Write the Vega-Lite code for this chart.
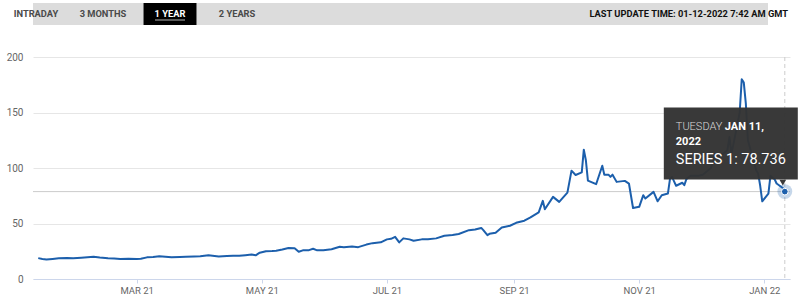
{
  "$schema": "https://vega.github.io/schema/vega-lite/v6.json",
  "padding": {"top": 3, "left": 0, "right": 0, "bottom": 0},
  "autosize": {"type": "pad"},
  "background": "white",
  "spacing": 27,
  "config": {"view": {"stroke": null}, "font": "Roboto"},
  "datasets": {
    "tabs": [
      {"tab": "INTRADAY", "selected": false},
      {"tab": "3 MONTHS", "selected": false},
      {"tab": "1 YEAR", "selected": true},
      {"tab": "2 YEARS", "selected": false}
    ],
    "update": [{"label": "LAST UPDATE TIME: 01-12-2022 7:42 AM GMT"}],
    "tip": [{"date": "2022-01-11", "value": 78.736, "day": "TUESDAY", "md": "JAN 11,", "yr": "2022", "label": "SERIES 1: 78.736"}],
    "series": [
      {"date": "2021-01-12", "value": 18.8},
      {"date": "2021-01-14", "value": 18.0},
      {"date": "2021-01-16", "value": 17.5},
      {"date": "2021-01-19", "value": 18.0},
      {"date": "2021-01-22", "value": 18.6},
      {"date": "2021-01-26", "value": 19.0},
      {"date": "2021-01-29", "value": 18.6},
      {"date": "2021-02-02", "value": 19.2},
      {"date": "2021-02-05", "value": 19.6},
      {"date": "2021-02-08", "value": 20.0},
      {"date": "2021-02-11", "value": 19.3},
      {"date": "2021-02-15", "value": 18.6},
      {"date": "2021-02-18", "value": 18.4},
      {"date": "2021-02-21", "value": 18.0},
      {"date": "2021-02-25", "value": 18.2},
      {"date": "2021-03-01", "value": 18.1},
      {"date": "2021-03-03", "value": 18.3},
      {"date": "2021-03-06", "value": 19.5},
      {"date": "2021-03-09", "value": 19.8},
      {"date": "2021-03-12", "value": 20.5},
      {"date": "2021-03-15", "value": 20.0},
      {"date": "2021-03-18", "value": 19.5},
      {"date": "2021-03-22", "value": 19.8},
      {"date": "2021-03-25", "value": 20.0},
      {"date": "2021-03-29", "value": 20.3},
      {"date": "2021-04-01", "value": 20.5},
      {"date": "2021-04-05", "value": 21.5},
      {"date": "2021-04-08", "value": 20.8},
      {"date": "2021-04-10", "value": 20.3},
      {"date": "2021-04-14", "value": 20.7},
      {"date": "2021-04-17", "value": 21.0},
      {"date": "2021-04-20", "value": 21.0},
      {"date": "2021-04-23", "value": 21.5},
      {"date": "2021-04-26", "value": 22.0},
      {"date": "2021-04-28", "value": 21.3},
      {"date": "2021-04-30", "value": 23.7},
      {"date": "2021-05-03", "value": 25.0},
      {"date": "2021-05-06", "value": 25.2},
      {"date": "2021-05-08", "value": 25.5},
      {"date": "2021-05-11", "value": 26.5},
      {"date": "2021-05-14", "value": 28.0},
      {"date": "2021-05-17", "value": 27.8},
      {"date": "2021-05-19", "value": 24.6},
      {"date": "2021-05-21", "value": 25.8},
      {"date": "2021-05-24", "value": 26.0},
      {"date": "2021-05-26", "value": 27.2},
      {"date": "2021-05-28", "value": 25.8},
      {"date": "2021-05-31", "value": 26.0},
      {"date": "2021-06-04", "value": 26.8},
      {"date": "2021-06-08", "value": 29.0},
      {"date": "2021-06-10", "value": 28.7},
      {"date": "2021-06-14", "value": 29.2},
      {"date": "2021-06-17", "value": 28.7},
      {"date": "2021-06-21", "value": 31.0},
      {"date": "2021-06-24", "value": 32.3},
      {"date": "2021-06-28", "value": 33.0},
      {"date": "2021-07-01", "value": 35.7},
      {"date": "2021-07-03", "value": 36.2},
      {"date": "2021-07-05", "value": 38.0},
      {"date": "2021-07-07", "value": 33.0},
      {"date": "2021-07-09", "value": 36.6},
      {"date": "2021-07-12", "value": 35.7},
      {"date": "2021-07-14", "value": 34.5},
      {"date": "2021-07-18", "value": 35.7},
      {"date": "2021-07-21", "value": 35.9},
      {"date": "2021-07-25", "value": 36.6},
      {"date": "2021-07-29", "value": 39.0},
      {"date": "2021-08-02", "value": 39.6},
      {"date": "2021-08-05", "value": 40.5},
      {"date": "2021-08-10", "value": 44.0},
      {"date": "2021-08-13", "value": 44.6},
      {"date": "2021-08-16", "value": 46.0},
      {"date": "2021-08-17", "value": 44.0},
      {"date": "2021-08-19", "value": 39.5},
      {"date": "2021-08-20", "value": 40.7},
      {"date": "2021-08-23", "value": 41.6},
      {"date": "2021-08-26", "value": 46.4},
      {"date": "2021-08-30", "value": 48.0},
      {"date": "2021-09-02", "value": 50.6},
      {"date": "2021-09-06", "value": 52.5},
      {"date": "2021-09-09", "value": 55.5},
      {"date": "2021-09-13", "value": 60.0},
      {"date": "2021-09-15", "value": 70.4},
      {"date": "2021-09-16", "value": 62.8},
      {"date": "2021-09-20", "value": 74.0},
      {"date": "2021-09-23", "value": 69.5},
      {"date": "2021-09-27", "value": 77.8},
      {"date": "2021-09-29", "value": 97.6},
      {"date": "2021-10-01", "value": 93.7},
      {"date": "2021-10-04", "value": 96.0},
      {"date": "2021-10-05", "value": 116.5},
      {"date": "2021-10-06", "value": 107.0},
      {"date": "2021-10-07", "value": 88.6},
      {"date": "2021-10-11", "value": 85.4},
      {"date": "2021-10-14", "value": 102.0},
      {"date": "2021-10-15", "value": 94.0},
      {"date": "2021-10-17", "value": 94.0},
      {"date": "2021-10-18", "value": 92.0},
      {"date": "2021-10-19", "value": 94.0},
      {"date": "2021-10-21", "value": 87.5},
      {"date": "2021-10-25", "value": 88.4},
      {"date": "2021-10-27", "value": 86.0},
      {"date": "2021-10-29", "value": 64.0},
      {"date": "2021-11-01", "value": 65.0},
      {"date": "2021-11-03", "value": 75.5},
      {"date": "2021-11-04", "value": 72.5},
      {"date": "2021-11-08", "value": 78.5},
      {"date": "2021-11-10", "value": 70.0},
      {"date": "2021-11-12", "value": 75.5},
      {"date": "2021-11-15", "value": 77.0},
      {"date": "2021-11-16", "value": 90.0},
      {"date": "2021-11-17", "value": 92.0},
      {"date": "2021-11-18", "value": 88.0},
      {"date": "2021-11-19", "value": 84.0},
      {"date": "2021-11-22", "value": 86.7},
      {"date": "2021-11-23", "value": 84.5},
      {"date": "2021-11-24", "value": 90.0},
      {"date": "2021-11-26", "value": 93.0},
      {"date": "2021-11-30", "value": 93.0},
      {"date": "2021-12-02", "value": 94.0},
      {"date": "2021-12-06", "value": 100.0},
      {"date": "2021-12-08", "value": 113.0},
      {"date": "2021-12-10", "value": 110.0},
      {"date": "2021-12-14", "value": 116.0},
      {"date": "2021-12-15", "value": 128.0},
      {"date": "2021-12-16", "value": 113.0},
      {"date": "2021-12-17", "value": 122.0},
      {"date": "2021-12-20", "value": 150.0},
      {"date": "2021-12-21", "value": 180.0},
      {"date": "2021-12-22", "value": 177.0},
      {"date": "2021-12-23", "value": 158.0},
      {"date": "2021-12-24", "value": 125.0},
      {"date": "2021-12-27", "value": 105.0},
      {"date": "2021-12-28", "value": 98.0},
      {"date": "2021-12-29", "value": 95.0},
      {"date": "2021-12-30", "value": 84.0},
      {"date": "2021-12-31", "value": 70.0},
      {"date": "2022-01-03", "value": 77.0},
      {"date": "2022-01-04", "value": 93.0},
      {"date": "2022-01-05", "value": 91.0},
      {"date": "2022-01-06", "value": 90.0},
      {"date": "2022-01-07", "value": 86.0},
      {"date": "2022-01-10", "value": 82.0},
      {"date": "2022-01-11", "value": 78.736}
    ]
  },
  "vconcat": [
    {
      "width": 767,
      "height": 22,
      "layer": [
        {
          "data": {"name": "update"},
          "mark": {"type": "rect", "color": "#dcdcdc", "xOffset": -32},
          "encoding": {}
        },
        {
          "data": {"name": "tabs"},
          "transform": [{"filter": "datum.selected"}],
          "mark": {"type": "rect", "color": "#000000"},
          "encoding": {
            "x": {"field": "tab", "type": "nominal", "axis": null,
                  "scale": {"type": "band", "domain": ["INTRADAY", "3 MONTHS", "1 YEAR", "2 YEARS"], "range": [-23.5, 230.5], "paddingInner": 0.21, "paddingOuter": 0}}
          }
        },
        {
          "data": {"name": "tabs"},
          "mark": {"type": "text", "fontWeight": "bold", "fontSize": 9.3, "baseline": "middle"},
          "encoding": {
            "x": {"field": "tab", "type": "nominal", "axis": null},
            "text": {"field": "tab"},
            "color": {"condition": {"test": "datum.selected", "value": "#ffffff"}, "value": "#4a4a4a"}
          }
        },
        {
          "data": {"name": "tabs"},
          "transform": [{"filter": "datum.selected"}],
          "mark": {"type": "tick", "orient": "horizontal", "size": 30, "thickness": 1, "color": "#ffffff", "yOffset": 6},
          "encoding": {
            "x": {"field": "tab", "type": "nominal", "axis": null, "bandPosition": 0.5}
          }
        },
        {
          "data": {"name": "update"},
          "mark": {"type": "text", "fontWeight": "bold", "fontSize": 9.3, "align": "right", "baseline": "middle", "dx": -12, "color": "#111111"},
          "encoding": {
            "x": {"value": "width"},
            "text": {"field": "label"}
          }
        }
      ]
    },
    {
      "width": 757,
      "height": 222,
      "layer": [
        {
          "data": {"name": "tip"},
          "mark": {"type": "rule", "color": "#cccccc", "strokeWidth": 1},
          "encoding": {
            "y": {"field": "value", "type": "quantitative"}
          }
        },
        {
          "data": {"name": "tip"},
          "mark": {"type": "rule", "color": "#cccccc", "strokeWidth": 1, "strokeDash": [4, 3]},
          "encoding": {
            "x": {"field": "date", "type": "temporal"}
          }
        },
        {
          "data": {"name": "series"},
          "mark": {"type": "line", "color": "#1c5fac", "strokeWidth": 2, "strokeJoin": "round"},
          "encoding": {
            "x": {
              "field": "date", "type": "temporal",
              "scale": {"type": "utc", "domain": [
                {"year": 2021, "month": 1, "date": 9, "hours": 10, "minutes": 34, "utc": true},
                {"year": 2022, "month": 1, "date": 13, "hours": 12, "minutes": 43, "utc": true}
              ]},
              "axis": {
                "title": null, "grid": false,
                "values": [
                  {"year": 2021, "month": 3, "date": 1, "utc": true},
                  {"year": 2021, "month": 5, "date": 1, "utc": true},
                  {"year": 2021, "month": 7, "date": 1, "utc": true},
                  {"year": 2021, "month": 9, "date": 1, "utc": true},
                  {"year": 2021, "month": 11, "date": 1, "utc": true},
                  {"year": 2022, "month": 1, "date": 1, "utc": true}
                ],
                "labelExpr": "upper(utcFormat(datum.value, '%b %y'))",
                "domainColor": "#ccd6eb", "tickColor": "#ccd6eb", "tickSize": 4,
                "labelPadding": 2, "labelColor": "#666666", "labelFontSize": 9.5, "labelFont": "Roboto"
              }
            },
            "y": {
              "field": "value", "type": "quantitative",
              "scale": {"domain": [0, 200], "nice": false},
              "axis": {
                "title": null, "values": [0, 25, 50, 75, 100, 125, 150, 175, 200],
                "grid": true, "gridColor": "#e6e6e6", "domain": false, "ticks": false,
                "labelPadding": 10, "labelColor": "#666666", "labelFontSize": 10, "labelFont": "Roboto",
                "minExtent": 33, "maxExtent": 33
              }
            }
          }
        },
        {
          "data": {"name": "tip"},
          "mark": {"type": "circle", "size": 220, "color": "#1c5fac", "opacity": 0.25},
          "encoding": {
            "x": {"field": "date", "type": "temporal"},
            "y": {"field": "value", "type": "quantitative"}
          }
        },
        {
          "data": {"name": "tip"},
          "mark": {"type": "circle", "size": 45, "color": "#1c5fac", "opacity": 1, "stroke": "#ffffff", "strokeWidth": 1},
          "encoding": {
            "x": {"field": "date", "type": "temporal"},
            "y": {"field": "value", "type": "quantitative"}
          }
        },
        {
          "data": {"name": "tip"},
          "mark": {"type": "rect", "color": "#333333", "opacity": 0.97, "xOffset": -121, "x2Offset": 13, "yOffset": -84, "y2Offset": -12},
          "encoding": {
            "x": {"field": "date", "type": "temporal"},
            "x2": {"field": "date"},
            "y": {"field": "value", "type": "quantitative"},
            "y2": {"field": "value"}
          }
        },
        {
          "data": {"name": "tip"},
          "mark": {"type": "point", "shape": "triangle-down", "filled": true, "size": 45, "color": "#333333", "opacity": 0.97, "xOffset": -2, "yOffset": -9},
          "encoding": {
            "x": {"field": "date", "type": "temporal"},
            "y": {"field": "value", "type": "quantitative"}
          }
        },
        {
          "data": {"name": "tip"},
          "mark": {"type": "text", "align": "left", "baseline": "alphabetic", "dx": -109, "dy": -62, "fontSize": 11, "fontWeight": 300, "color": "#d8d8d8"},
          "encoding": {
            "x": {"field": "date", "type": "temporal"},
            "y": {"field": "value", "type": "quantitative"},
            "text": {"field": "day"}
          }
        },
        {
          "data": {"name": "tip"},
          "mark": {"type": "text", "align": "left", "baseline": "alphabetic", "dx": -60, "dy": -62, "fontSize": 11, "fontWeight": "bold", "color": "#ffffff"},
          "encoding": {
            "x": {"field": "date", "type": "temporal"},
            "y": {"field": "value", "type": "quantitative"},
            "text": {"field": "md"}
          }
        },
        {
          "data": {"name": "tip"},
          "mark": {"type": "text", "align": "left", "baseline": "alphabetic", "dx": -109, "dy": -47, "fontSize": 11, "fontWeight": "bold", "color": "#ffffff"},
          "encoding": {
            "x": {"field": "date", "type": "temporal"},
            "y": {"field": "value", "type": "quantitative"},
            "text": {"field": "yr"}
          }
        },
        {
          "data": {"name": "tip"},
          "mark": {"type": "text", "align": "left", "baseline": "alphabetic", "dx": -109, "dy": -28, "fontSize": 14.5, "color": "#ffffff"},
          "encoding": {
            "x": {"field": "date", "type": "temporal"},
            "y": {"field": "value", "type": "quantitative"},
            "text": {"field": "label"}
          }
        }
      ]
    }
  ]
}
